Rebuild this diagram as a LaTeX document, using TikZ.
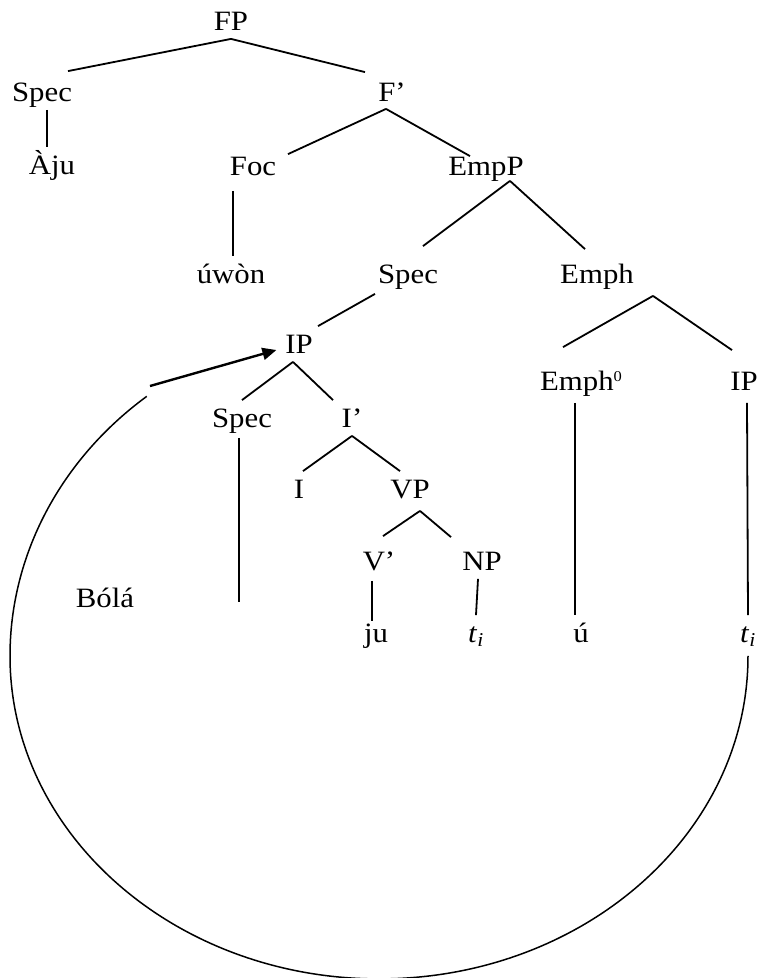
\documentclass[tikz,border=0pt]{standalone}
\usepackage{fontspec}
\setmainfont{Liberation Serif}[FakeStretch=1.1]
\usetikzlibrary{arrows.meta}

\begin{document}
\begin{tikzpicture}[x=1pt,y=-1pt,line width=1.8pt,
  cat/.style={anchor=base,inner xsep=0pt,inner ysep=8pt,text height=18pt,text depth=0pt,
    font=\fontsize{28}{30}\selectfont}]
\useasboundingbox (0,0) rectangle (760,978);

\node[cat] (fp) at (231,30) {FP};
\node[cat] (specA) at (42,101) {Spec};
\node[cat] (fbar) at (392,101) {F’};
\node[cat] (aju) at (52,174) {Àju};
\node[cat] (foc) at (253,175) {Foc};
\node[cat] (empp) at (486,175) {EmpP};
\node[cat] (uwon) at (231,283) {úwòn};
\node[cat] (specB) at (408,283) {Spec};
\node[cat] (emph) at (597,283) {Emph};
\node[cat] (ipA) at (299,353) {IP};
\node[cat] (emph0) at (581,390) {Emph\raisebox{9pt}{\fontsize{15}{15}\selectfont 0}};
\node[cat] (ipB) at (744,390) {IP};
\node[cat] (specC) at (242,427) {Spec};
\node[cat] (ibar) at (352,427) {I’};
\node[cat] (i) at (299,498) {I};
\node[cat] (vp) at (410,498) {VP};
\node[cat] (vbar) at (379,570) {V’};
\node[cat] (np) at (482,570) {NP};
\node[cat] (bola) at (105,607) {Bólá};
\node[cat] (ju) at (376,642) {ju};
\node[cat] (tiA) at (476,642) {\textit{t}\textsubscript{\textit{i}}};
\node[cat] (u) at (581,642) {ú};
\node[cat] (tiB) at (748,642) {\textit{t}\textsubscript{\textit{i}}};
\coordinate (trace) at (239,602);
\coordinate (trail) at (150,386);

\draw (fp.south) -- ([shift={(26,-3)}]specA.north);
\draw (fp.south) -- ([shift={(-27,-2)}]fbar.north);
\draw ([xshift=5pt]specA.south) -- ([xshift=-5pt]aju.north);
\draw ([shift={(-6,-1)}]fbar.south) -- ([shift={(35,6)}]foc.north);
\draw ([shift={(-6,-1)}]fbar.south) -- ([shift={(-16,8)}]empp.north);
\draw ([shift={(-20,7)}]foc.south) -- ([xshift=2pt]uwon.north);
\draw ([shift={(24,-3)}]empp.south) -- ([shift={(15,-10)}]specB.north);
\draw ([shift={(24,-3)}]empp.south) -- ([shift={(-12,-7)}]emph.north);
\draw ([shift={(-33,2)}]specB.south) -- ([xshift=19pt]ipA.north);
\draw ([shift={(56,4)}]emph.south) -- ([shift={(-18,-16)}]emph0.north);
\draw ([shift={(56,4)}]emph.south) -- ([shift={(-12,-13)}]ipB.north);
\draw ([shift={(-6,4)}]emph0.south) -- ([xshift=-6pt]u.north);
\draw ([shift={(3,4)}]ipB.south) -- (tiB.north);
\draw ([xshift=-6pt]ipA.south) -- (specC.north);
\draw ([xshift=-6pt]ipA.south) -- ([xshift=-19pt]ibar.north);
\draw ([shift={(-3,2)}]specC.south) -- (trace);
\draw (ibar.south) -- ([xshift=4pt]i.north);
\draw (ibar.south) -- ([xshift=-10pt]vp.north);
\draw ([shift={(10,4)}]vp.south) -- ([shift={(4,-7)}]vbar.north);
\draw ([shift={(10,4)}]vp.south) -- ([shift={(-31,-6)}]np.north);
\draw ([shift={(-7,2)}]vbar.south) -- ([shift={(-4,6)}]ju.north);
\draw ([xshift=-4pt]np.south) -- (tiA.north);

\draw[line width=1.5pt] ([yshift=-5pt]tiB.south)
  arc[start angle=0,end angle=180,x radius=369,y radius=323]
  arc[start angle=180,end angle=231,x radius=369,y radius=334];
\draw[line width=2.4pt,-{Triangle[length=14pt,width=12pt]}] (trail) -- ([shift={(-8,6)}]ipA.west);
\end{tikzpicture}
\end{document}
